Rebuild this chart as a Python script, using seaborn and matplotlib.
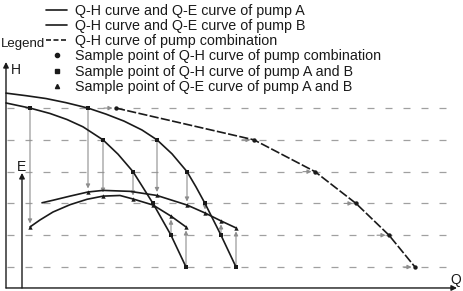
import pandas as pd
import matplotlib.pyplot as plt
import seaborn as sns
from matplotlib.lines import Line2D

# head levels where the sample points were taken (dashed lines)
h_levels = [60, 50, 40, 30, 20, 10]

# pump A: sample points (Q at each head level) and efficiency there
qa_pts = [2.4, 9.7, 12.7, 14.7, 16.5, 18.0]
ea_pts = [22.6, 32.3, 31.4, 29.5, 26.0, 22.6]
# pump A: points
qa_h_curve = [0, 2.4, 4.4, 6.1, 7.7, 9.7, 11.2, 12.7, 14.7, 16.5, 18.0]
ha_curve = [61.6, 60, 58.3, 56.4, 54.1, 50, 45.5, 40, 30, 20, 10]
qa_e_curve = [2.4, 3.4, 4.7, 6.4, 8.1, 9.7, 11.4, 12.7, 14.7, 16.5, 18.0]
ea_curve = [22.6, 24.8, 27.3, 29.6, 31.3, 32.3, 32.5, 31.4, 29.5, 26.0, 22.6]

# pump B
qb_pts = [8.2, 15.1, 18.1, 19.9, 21.5, 23.0]
eb_pts = [33.6, 32.5, 29.5, 27.0, 24.5, 22.3]
qb_h_curve = [0, 2.0, 4.0, 6.0, 8.2, 10.0, 11.8, 13.6, 15.1, 16.6, 18.1, 19.0, 19.9, 21.5, 23.0]
hb_curve = [64.7, 63.9, 63.0, 61.7, 60, 58.1, 55.9, 53.1, 50, 45.6, 40, 35.2, 30, 20, 10]
qb_e_curve = [3.6, 4.7, 6.4, 8.2, 9.7, 12.4, 15.1, 18.1, 19.9, 21.5, 23.0]
eb_curve = [30.2, 31.0, 32.3, 33.6, 34.1, 33.8, 32.5, 29.5, 27.0, 24.5, 22.3]

# pump combination (parallel)
qc_pts = [11.0, 24.8, 30.9, 35.0, 38.3, 40.9]

legend_labels = [
    "Q-H curve and Q-E curve of pump A",
    "Q-H curve and Q-E curve of pump B",
    "Q-H curve of pump combination",
    "Sample point of Q-H curve of pump combination",
    "Sample point of Q-H curve of pump A and B",
    "Sample point of Q-E curve of pump A and B",
]

sns.set_theme(style="white")
plt.rcParams["font.family"] = ["Liberation Sans", "DejaVu Sans"]

dark = "#1a1a1a"
grey = "#8e8e8e"
lw = 1.2

fig = plt.figure(figsize=(4.63, 2.91), dpi=100)
ax = fig.add_axes([0, 0, 1, 1])
ax.set_xlim(-0.6, 45.7)
ax.set_ylim(2.45, 94.0)
ax.set_axis_off()

# dashed head levels
ax.hlines(h_levels, 0.1, 44.6, colors="#a0a0a0", lw=0.9,
          linestyles=(0, (5.6, 8.8)), zorder=1)

arrow_kw = dict(arrowstyle="-|>", color=grey, lw=0.8, mutation_scale=6,
                shrinkA=0, shrinkB=2.5)

# vertical arrows from Q-H sample to Q-E sample
for q, h, e in list(zip(qa_pts, h_levels, ea_pts)) + list(zip(qb_pts, h_levels, eb_pts)):
    if abs(h - e) > 2:
        ax.annotate("", xy=(q, e), xytext=(q, h), arrowprops=arrow_kw, zorder=2)

# horizontal arrows into the combination points
for q, h in zip(qc_pts, h_levels):
    ax.annotate("", xy=(q, h), xytext=(q - 1.2, h), arrowprops=arrow_kw, zorder=2)

# pump curves
for qs, vs in [(qa_h_curve, ha_curve), (qa_e_curve, ea_curve),
               (qb_h_curve, hb_curve), (qb_e_curve, eb_curve)]:
    df = pd.DataFrame({"Q": qs, "V": vs})
    sns.lineplot(data=df, x="Q", y="V", sort=False, estimator=None,
                 color=dark, lw=lw, ax=ax, zorder=3)

df_c = pd.DataFrame({"Q": qc_pts, "H": h_levels})
sns.lineplot(data=df_c, x="Q", y="H", sort=False, estimator=None,
             color=dark, lw=lw, ax=ax, zorder=3)
ax.lines[-1].set_linestyle((0, (5.5, 1.4)))

# sample points
df_hs = pd.DataFrame({"Q": qa_pts + qb_pts, "H": h_levels + h_levels})
df_es = pd.DataFrame({"Q": qa_pts + qb_pts, "E": ea_pts + eb_pts})
sns.scatterplot(data=df_hs, x="Q", y="H", marker="s", s=9, color=dark,
                linewidth=0, ax=ax, zorder=4)
sns.scatterplot(data=df_es, x="Q", y="E", marker="^", s=10, color=dark,
                linewidth=0, ax=ax, zorder=4)
sns.scatterplot(data=df_c, x="Q", y="H", marker="o", s=10, color=dark,
                linewidth=0, ax=ax, zorder=4)

# axes arrows
ax_kw = dict(arrowstyle="-|>", color=dark, lw=1.0, mutation_scale=8,
             shrinkA=0, shrinkB=0)
ax.annotate("", xy=(0, 74.5), xytext=(0, 3.4), arrowprops=ax_kw)
ax.annotate("", xy=(1.6, 39.6), xytext=(1.6, 3.4), arrowprops=ax_kw)
ax.annotate("", xy=(45.1, 3.4), xytext=(0, 3.4), arrowprops=ax_kw)
ax.text(0.5, 72.0, "H", fontsize=10, ha="left", va="center", color=dark)
ax.text(1.6, 41.4, "E", fontsize=10, ha="center", va="center", color=dark)
ax.text(45.0, 5.8, "Q", fontsize=10, ha="center", va="center", color=dark)

# legend
handles = [
    Line2D([], [], color=dark, lw=lw),
    Line2D([], [], color=dark, lw=lw),
    Line2D([], [], color=dark, lw=lw, ls=(0, (3, 1.5))),
    Line2D([], [], color=dark, marker="o", ms=3, ls="none"),
    Line2D([], [], color=dark, marker="s", ms=3, ls="none"),
    Line2D([], [], color=dark, marker="^", ms=3, ls="none"),
]
fig.legend(handles, legend_labels, loc="upper left",
           bbox_to_anchor=(46 / 463, 1 - 4 / 291), frameon=False, fontsize=10.3,
           borderpad=0, borderaxespad=0, labelspacing=0.08,
           handlelength=1.47, handletextpad=0.56, labelcolor=dark)
fig.text(1 / 463, 1 - 44 / 291, "Legend", fontsize=9.5, ha="left",
         va="center", color=dark)

plt.savefig("out.png", dpi=100)
